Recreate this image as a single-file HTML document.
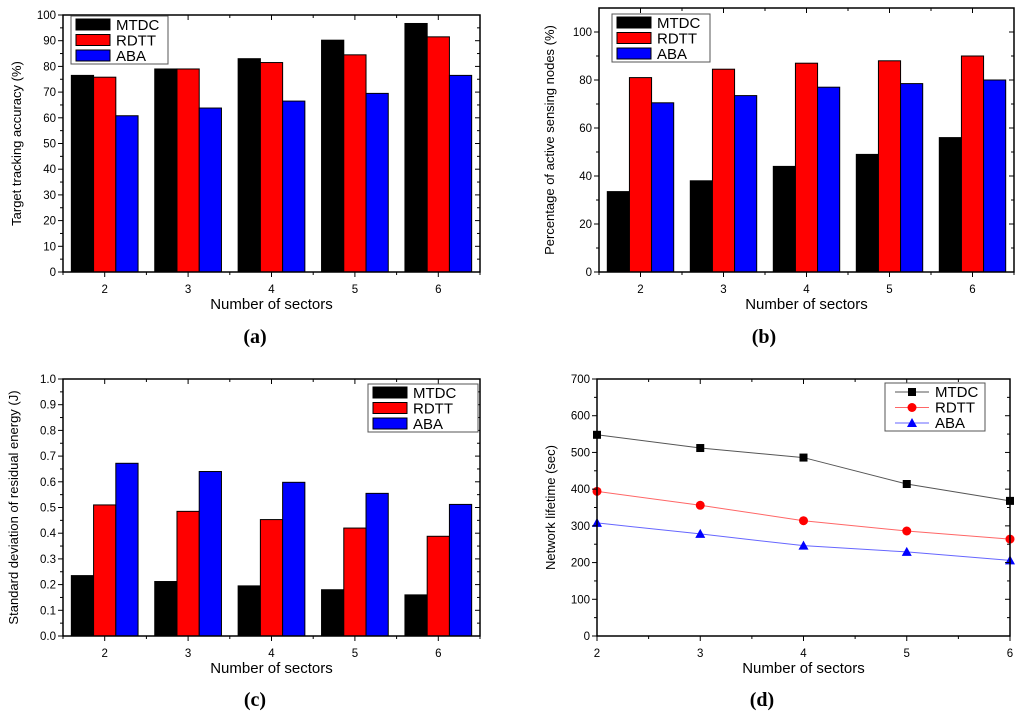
<!DOCTYPE html>
<html><head><meta charset="utf-8"><style>
body{margin:0;background:#fff;width:1024px;height:719px;overflow:hidden}
svg{position:absolute;left:0;top:0}
text{font-family:"Liberation Sans",sans-serif;fill:#000}
.cap{font-family:"Liberation Serif",serif;font-weight:bold;font-size:20px}
</style></head><body>
<svg id="s" width="1024" height="719"></svg>
<script>
const categories=[2,3,4,5,6];
const seriesNames=["MTDC","RDTT","ABA"];
const colors=["#000","#f00","#00f"];
const aMTDC=[76.5,79,83,90.2,96.7];
const aRDTT=[75.8,79,81.5,84.5,91.5];
const aABA=[60.8,63.8,66.5,69.5,76.5];
const aTicks=[0,10,20,30,40,50,60,70,80,90,100];
const bMTDC=[33.5,38,44,49,56];
const bRDTT=[81,84.5,87,88,90];
const bABA=[70.5,73.5,77,78.5,80];
const bTicks=[0,20,40,60,80,100];
const cMTDC=[0.235,0.212,0.195,0.18,0.16];
const cRDTT=[0.51,0.485,0.453,0.42,0.388];
const cABA=[0.672,0.64,0.598,0.555,0.512];
const cTicks=[0,0.1,0.2,0.3,0.4,0.5,0.6,0.7,0.8,0.9,1.0];
const dMTDC=[548,512,486,414,368];
const dRDTT=[394,356,314,286,264];
const dABA=[308,278,246,229,206];
const dTicks=[0,100,200,300,400,500,600,700];

const svg=document.getElementById('s');
const NS="http://www.w3.org/2000/svg";
function el(tag,attrs,parent){const e=document.createElementNS(NS,tag);for(const k in attrs)e.setAttribute(k,attrs[k]);(parent||svg).appendChild(e);return e;}
function txt(str,attrs,parent){const t=el('text',attrs,parent);t.textContent=str;return t;}

function panel(id,box,ymax,ticks,fmt,series,ytitle,legend,kind,cap){
  const g=el('g',{});
  
  
  const {l,r,t,b}=box;
  const ys=v=>b-(v/ymax)*(b-t);
  let xs;
  if(kind==='bar'){xs=i=>l+(i+0.5)*(r-l)/categories.length;}
  else{xs=i=>l+i*(r-l)/(categories.length-1);}
  // bars/lines
  if(kind==='bar'){
    const gw=(r-l)/categories.length*0.8,bw=gw/3;
    series.forEach((s,si)=>{s.forEach((v,i)=>{
      const x=xs(i)-gw/2+si*bw;
      const rc=el('rect',{x:x,y:ys(v),width:bw,height:b-ys(v),fill:colors[si],stroke:'#000','stroke-width':1},g);
      
      
    });});
  }else{
    const lc=["#555","#f66","#66f"];
    series.forEach((s,si)=>{
      const pl=el('polyline',{points:s.map((v,i)=>xs(i)+','+ys(v)).join(' '),fill:'none',stroke:lc[si],'stroke-width':1},g);
      
      
      s.forEach((v,i)=>{marker(g,si,xs(i),ys(v),'point-'+seriesNames[si].toLowerCase()+'-'+categories[i]);});
    });
  }
  // frame
  const fr=el('rect',{x:l,y:t,width:r-l,height:b-t,fill:'none',stroke:'#000','stroke-width':1.5},g);
  
  
  // y ticks
  ticks.forEach((v,i)=>{
    const y=ys(v);
    el('line',{x1:l-5,x2:l,y1:y,y2:y,stroke:'#000'},g);
    el('line',{x1:r-5,x2:r,y1:y,y2:y,stroke:'#000'},g);
    if(i<ticks.length-1){const ym=ys((v+ticks[i+1])/2);el('line',{x1:l-3,x2:l,y1:ym,y2:ym,stroke:'#000'},g);el('line',{x1:r-3,x2:r,y1:ym,y2:ym,stroke:'#000'},g);}
    const tl=txt(fmt(v),{x:l-7,y:y+4,'font-size':11.5,'text-anchor':'end'},g);
    
    
  });
  // x ticks
  categories.forEach((c,i)=>{
    const x=xs(i);
    el('line',{x1:x,x2:x,y1:b,y2:b+5,stroke:'#000'},g);
    el('line',{x1:x,x2:x,y1:t,y2:t+5,stroke:'#000'},g);
    const tl=txt(String(c),{x:x,y:b+21,'font-size':11.5,'text-anchor':'middle'},g);
    
    
  });
  if(kind==='bar'){for(let i=0;i<=categories.length;i++){const x=l+i*(r-l)/categories.length;el('line',{x1:x,x2:x,y1:b,y2:b+3,stroke:'#000'},g);el('line',{x1:x,x2:x,y1:t,y2:t+3,stroke:'#000'},g);}}
  else{for(let i=0;i<categories.length-1;i++){const x=(xs(i)+xs(i+1))/2;el('line',{x1:x,x2:x,y1:b,y2:b+3,stroke:'#000'},g);el('line',{x1:x,x2:x,y1:t,y2:t+3,stroke:'#000'},g);}}
  const xt=txt('Number of sectors',{x:(l+r)/2,y:b+37,'font-size':15,'text-anchor':'middle'},g);
  
  
  const cy=(t+b)/2;
  const yt=txt(ytitle,{x:0,y:0,'font-size':13,'text-anchor':'middle',transform:`translate(${ytitle.length>30?l-45:l-42},${cy}) rotate(-90)`},g);
  
  
  // legend
  const lg=el('g',{},g);
  
  
  el('rect',{x:legend.x,y:legend.y,width:legend.w,height:48,fill:'#fff',stroke:'#555','stroke-width':1},lg);
  seriesNames.forEach((n,si)=>{
    const yy=legend.y+8+si*15.5;
    if(kind==='bar'){el('rect',{x:legend.x+5,y:yy-5,width:34,height:11,fill:colors[si],stroke:'#000'},lg);}
    else{el('line',{x1:legend.x+10,x2:legend.x+44,y1:yy+1,y2:yy+1,stroke:["#555","#f66","#66f"][si]},lg);marker(lg,si,legend.x+27,yy+1,'legend-marker');}
    const lt=txt(n,{x:legend.x+(kind==='bar'?45:50),y:yy+6,'font-size':15},lg);
    
    
  });
  const ct=txt(cap[0],{x:cap[1],y:cap[2],'text-anchor':'middle',class:'cap'},g);
  
  
}
function marker(g,si,x,y,name){
  let m;
  if(si===0)m=el('rect',{x:x-4,y:y-4,width:8,height:8,fill:'#000'},g);
  else if(si===1)m=el('circle',{cx:x,cy:y,r:4.5,fill:'#f00'},g);
  else m=el('polygon',{points:`${x},${y-5} ${x+5},${y+4} ${x-5},${y+4}`,fill:'#00f'},g);
  
  
}
panel('a',{l:63,r:480,t:15,b:272},100,aTicks,v=>String(v),[aMTDC,aRDTT,aABA],'Target tracking accuracy (%)',{x:71,y:16,w:97},'bar',['(a)',255,343]);
panel('b',{l:599,r:1014,t:8,b:272},110,bTicks,v=>String(v),[bMTDC,bRDTT,bABA],'Percentage of active sensing nodes (%)',{x:612,y:14,w:98},'bar',['(b)',764,343]);
panel('c',{l:63,r:480,t:379,b:636},1.0,cTicks,v=>v.toFixed(1),[cMTDC,cRDTT,cABA],'Standard deviation of residual energy (J)',{x:368,y:384,w:110},'bar',['(c)',255,706]);
panel('d',{l:597,r:1010,t:379,b:636},700,dTicks,v=>String(v),[dMTDC,dRDTT,dABA],'Network lifetime (sec)',{x:885,y:383,w:100},'line',['(d)',762,706]);
</script>
</body></html>
